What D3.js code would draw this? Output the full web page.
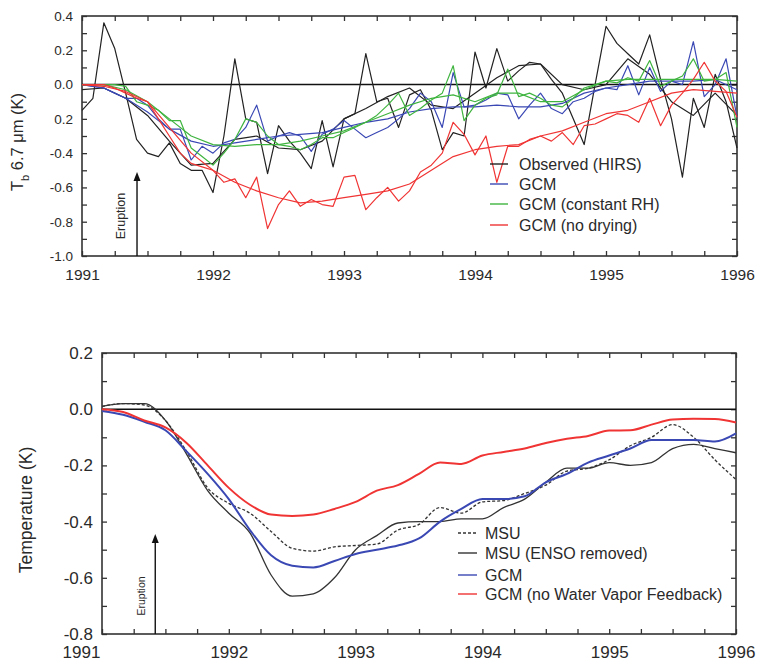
<!DOCTYPE html>
<html>
<head>
<meta charset="utf-8">
<script src="https://cdn.jsdelivr.net/npm/d3@7"></script>
<style>
body { margin: 0; background: #fff; }
svg text { font-family: "Liberation Sans", Arial, sans-serif; fill: #2a2a2a; }
.domain { display: none; }
</style>
</head>
<body>
<svg id="chart" width="757" height="663"></svg>
<script>
// TOP PANEL DATA (monthly, Jan 1991 .. Jan 1996) + smoothed (every 2 months)
const obsRaw = [-0.15,-0.08,0.36,0.21,-0.05,-0.32,-0.40,-0.42,-0.34,-0.46,-0.50,-0.50,-0.63,-0.30,0.15,-0.20,-0.22,-0.52,-0.24,-0.33,-0.40,-0.49,-0.21,-0.48,-0.20,-0.17,0.18,-0.10,-0.08,-0.25,-0.06,-0.03,-0.15,-0.38,-0.28,-0.30,0.19,-0.02,0.21,0.02,0.08,0.13,0.12,0.03,-0.05,-0.20,-0.35,0.0,0.34,0.24,0.18,0.12,0.29,0.03,-0.20,-0.54,-0.08,-0.25,0.06,-0.10,-0.37];
const obsSmooth = [-0.03,-0.02,-0.08,-0.18,-0.33,-0.47,-0.46,-0.32,-0.30,-0.37,-0.38,-0.33,-0.20,-0.14,-0.07,-0.02,-0.12,-0.14,-0.05,0.04,0.11,0.12,0.0,-0.03,0.0,0.15,0.06,-0.10,-0.18,-0.05,-0.18];
const gcmRaw = [0,-0.01,-0.02,-0.05,-0.08,-0.08,-0.12,-0.20,-0.26,-0.26,-0.44,-0.36,-0.40,-0.34,-0.32,-0.25,-0.12,-0.33,-0.30,-0.28,-0.30,-0.39,-0.29,-0.26,-0.21,-0.26,-0.31,-0.28,-0.25,-0.20,-0.14,-0.05,-0.10,-0.25,0.07,-0.13,-0.12,-0.09,-0.05,-0.06,-0.20,-0.12,-0.05,-0.14,-0.17,-0.10,-0.08,-0.04,-0.02,-0.03,0.11,-0.06,0.10,-0.04,0.02,0.0,0.25,-0.07,0.0,0.15,-0.19];
const gcmSmooth = [0,-0.02,-0.08,-0.16,-0.26,-0.33,-0.36,-0.34,-0.32,-0.30,-0.29,-0.28,-0.25,-0.22,-0.20,-0.16,-0.14,-0.13,-0.13,-0.12,-0.13,-0.13,-0.11,-0.05,-0.02,0.0,0.02,0.02,0.02,0.03,-0.03];
const rhRaw = [0,0,0,0,-0.01,-0.10,-0.12,-0.15,-0.21,-0.21,-0.37,-0.42,-0.47,-0.40,-0.32,-0.20,-0.22,-0.30,-0.35,-0.36,-0.38,-0.35,-0.31,-0.31,-0.28,-0.25,-0.22,-0.18,-0.12,-0.05,-0.18,-0.14,-0.09,-0.05,0.11,-0.21,-0.12,-0.08,-0.06,0.09,-0.07,-0.05,-0.08,-0.12,-0.13,-0.08,-0.02,0.0,0.02,0.01,0.04,0.02,0.14,-0.01,0.02,0.05,0.15,0.02,0.03,0.07,-0.25];
const rhSmooth = [0,0,-0.03,-0.10,-0.20,-0.30,-0.35,-0.36,-0.35,-0.35,-0.33,-0.30,-0.27,-0.22,-0.17,-0.12,-0.08,-0.06,-0.10,-0.05,-0.05,-0.10,-0.10,-0.03,0.02,0.03,0.03,0.03,0.03,0.03,0.02];
const dryRaw = [0,0,0,-0.02,-0.05,-0.08,-0.10,-0.20,-0.30,-0.40,-0.46,-0.48,-0.50,-0.57,-0.55,-0.66,-0.54,-0.84,-0.70,-0.62,-0.71,-0.67,-0.70,-0.71,-0.54,-0.53,-0.73,-0.66,-0.60,-0.68,-0.62,-0.51,-0.47,-0.40,-0.22,-0.29,-0.41,-0.30,-0.57,-0.36,-0.36,-0.32,-0.30,-0.33,-0.28,-0.35,-0.24,-0.23,-0.20,-0.17,-0.18,-0.22,-0.08,-0.24,-0.12,-0.05,0.03,0.13,0.02,-0.04,-0.19];
const drySmooth = [0,-0.01,-0.04,-0.10,-0.25,-0.40,-0.50,-0.57,-0.62,-0.66,-0.69,-0.68,-0.66,-0.64,-0.62,-0.58,-0.50,-0.42,-0.38,-0.36,-0.35,-0.30,-0.27,-0.22,-0.17,-0.15,-0.10,-0.05,-0.03,-0.04,-0.05];

// BOTTOM PANEL DATA (every 2 months)
const msu = [0.01,0.02,0.015,-0.04,-0.15,-0.28,-0.335,-0.37,-0.435,-0.495,-0.505,-0.49,-0.485,-0.48,-0.43,-0.41,-0.35,-0.37,-0.33,-0.325,-0.30,-0.27,-0.22,-0.21,-0.18,-0.13,-0.10,-0.055,-0.10,-0.18,-0.25];
const msuEnso = [0.01,0.02,0.02,-0.04,-0.16,-0.29,-0.37,-0.44,-0.59,-0.665,-0.657,-0.60,-0.50,-0.45,-0.405,-0.40,-0.40,-0.39,-0.39,-0.35,-0.32,-0.26,-0.21,-0.21,-0.19,-0.20,-0.19,-0.14,-0.125,-0.14,-0.155];
const gcmT = [-0.006,-0.02,-0.045,-0.075,-0.15,-0.23,-0.32,-0.43,-0.52,-0.557,-0.563,-0.54,-0.515,-0.50,-0.485,-0.46,-0.40,-0.355,-0.32,-0.32,-0.31,-0.26,-0.23,-0.19,-0.165,-0.14,-0.11,-0.11,-0.11,-0.115,-0.086];
const noWv = [0,-0.01,-0.04,-0.065,-0.12,-0.20,-0.28,-0.34,-0.375,-0.38,-0.375,-0.355,-0.33,-0.29,-0.27,-0.23,-0.19,-0.195,-0.165,-0.152,-0.14,-0.12,-0.105,-0.095,-0.076,-0.075,-0.055,-0.037,-0.034,-0.035,-0.047];

const yearLabels = ["1991","1992","1993","1994","1995","1996"];
const topYTicks = [0.4,0.2,0,-0.2,-0.4,-0.6,-0.8,-1.0];
const topYLabels = ["0.4","0.2","0.0","0.2","-0.4","-0.6","-0.8","-1.0"];
const botYTicks = [0.2,0,-0.2,-0.4,-0.6,-0.8];
const botYLabels = ["0.2","0.0","-0.2","-0.4","-0.6","-0.8"];
const eruption = 1991.42;

const BLACK = "#222", BLUE = "#3a48b4", GREEN = "#3fb43f", RED = "#f03434";

const svg = d3.select("#chart");
const monthly = d3.range(61).map(function(i){ return 1991 + i/12; });
const bimonthly = d3.range(31).map(function(i){ return 1991 + i/6; });
const quarters = d3.range(21).map(function(i){ return 1991 + i/4; });

function zip(xs, ys){ return xs.map(function(x, i){ return [x, ys[i]]; }); }

function panel(opt){
    const x = d3.scaleLinear().domain([1991, 1996]).range([opt.left, opt.right]);
    const y = d3.scaleLinear().domain(opt.ydom).range([opt.bottom, opt.top]);
    const g = svg.append("g");
    const minorY = d3.range(Math.round(opt.ydom[0]*10), Math.round(opt.ydom[1]*10) + 1).map(function(d){ return d/10; });

    // inward minor ticks on all four sides
    g.append("g").attr("transform", "translate(0," + opt.bottom + ")")
        .call(d3.axisBottom(x).tickValues(quarters).tickSize(-opt.tick).tickFormat(""));
    g.append("g").attr("transform", "translate(0," + opt.top + ")")
        .call(d3.axisTop(x).tickValues(quarters).tickSize(-opt.tick).tickFormat(""));
    g.append("g").attr("transform", "translate(" + opt.left + ",0)")
        .call(d3.axisLeft(y).tickValues(minorY).tickSize(-opt.tick).tickFormat(""));
    g.append("g").attr("transform", "translate(" + opt.right + ",0)")
        .call(d3.axisRight(y).tickValues(minorY).tickSize(-opt.tick).tickFormat(""));
    g.selectAll(".tick line").attr("stroke", "#333").attr("stroke-width", 1.3);

    // labels
    const xl = g.append("g").attr("transform", "translate(0," + opt.bottom + ")")
        .call(d3.axisBottom(x).tickValues([1991,1992,1993,1994,1995,1996]).tickSize(0).tickPadding(opt.xpad)
            .tickFormat(function(d, i){ return yearLabels[i]; }));
    xl.selectAll("text").style("font-size", opt.xfont + "px")
        .attr("dx", function(d, i){ return i === 0 ? opt.firstDx : 0; });
    const yl = g.append("g").attr("transform", "translate(" + opt.left + ",0)")
        .call(d3.axisLeft(y).tickValues(opt.yticks).tickSize(0).tickPadding(opt.ypad)
            .tickFormat(function(d, i){ return opt.ylabels[i]; }));
    yl.selectAll("text").style("font-size", opt.yfont + "px");

    g.append("rect").attr("x", opt.left).attr("y", opt.top)
        .attr("width", opt.right - opt.left).attr("height", opt.bottom - opt.top)
        .attr("fill", "none").attr("stroke", "#333").attr("stroke-width", 1.6);
    g.append("line").attr("x1", opt.left).attr("x2", opt.right)
        .attr("y1", y(0)).attr("y2", y(0)).attr("stroke", "#111").attr("stroke-width", 1.4);

    // eruption arrow
    g.append("line").attr("x1", x(eruption)).attr("x2", x(eruption))
        .attr("y1", opt.bottom).attr("y2", opt.arrowTop + 6)
        .attr("stroke", "#111").attr("stroke-width", 1.4);
    g.append("path")
        .attr("d", "M" + x(eruption) + "," + opt.arrowTop + "l-3.5,9h7z")
        .attr("fill", "#111");
    g.append("text").attr("transform", "translate(" + (x(eruption) - opt.eruptDx) + "," + opt.eruptY + ") rotate(-90)")
        .attr("text-anchor", "middle").style("font-size", opt.eruptFont + "px").text("Eruption");

    g.append("text").attr("transform", "translate(" + opt.titleX + "," + opt.titleY + ") rotate(-90)")
        .attr("text-anchor", "middle").style("font-size", opt.titleFont + "px").html(opt.title);

    return { x: x, y: y, g: g };
}

function drawLine(p, xs, ys, color, width, dash, curve){
    const line = d3.line().x(function(d){ return p.x(d[0]); }).y(function(d){ return p.y(d[1]); })
        .curve(curve || d3.curveLinear);
    p.g.append("path").datum(zip(xs, ys)).attr("d", line)
        .attr("fill", "none").attr("stroke", color).attr("stroke-width", width)
        .attr("stroke-linejoin", "round").attr("stroke-dasharray", dash || null);
}

function legend(p, items, lx, tx, ys, font){
    items.forEach(function(it, i){
        p.g.append("line").attr("x1", lx[0]).attr("x2", lx[1]).attr("y1", ys[i]).attr("y2", ys[i])
            .attr("stroke", it.color).attr("stroke-width", 1.4).attr("stroke-dasharray", it.dash || null);
        p.g.append("text").attr("x", tx).attr("y", ys[i]).attr("dy", "0.35em")
            .style("font-size", font + "px").text(it.label);
    });
}

// TOP PANEL
const topPanel = panel({
    left: 82, right: 737, top: 16, bottom: 256, ydom: [-1.0, 0.4], tick: 5,
    yticks: topYTicks, ylabels: topYLabels, yfont: 13.5, ypad: 9,
    xfont: 15.5, xpad: 13, firstDx: 0,
    arrowTop: 172, eruptY: 216, eruptDx: 12, eruptFont: 12.5,
    title: 'T<tspan baseline-shift="sub" font-size="11">b</tspan> 6.7 \u03bcm (K)', titleX: 23, titleY: 142, titleFont: 16.5
});
drawLine(topPanel, bimonthly, obsSmooth, BLACK, 1.2);
drawLine(topPanel, monthly, obsRaw, BLACK, 1.2);
drawLine(topPanel, bimonthly, gcmSmooth, BLUE, 1.2);
drawLine(topPanel, monthly, gcmRaw, BLUE, 1.2);
drawLine(topPanel, bimonthly, rhSmooth, GREEN, 1.2);
drawLine(topPanel, monthly, rhRaw, GREEN, 1.2);
drawLine(topPanel, bimonthly, drySmooth, RED, 1.2);
drawLine(topPanel, monthly, dryRaw, RED, 1.2);
legend(topPanel, [
    {label: "Observed (HIRS)", color: BLACK},
    {label: "GCM", color: BLUE},
    {label: "GCM (constant RH)", color: GREEN},
    {label: "GCM (no drying)", color: RED}
], [490, 508], 519, [164, 184, 204, 225], 16);

// BOTTOM PANEL
const botPanel = panel({
    left: 102, right: 736, top: 353, bottom: 634, ydom: [-0.8, 0.2], tick: 5,
    yticks: botYTicks, ylabels: botYLabels, yfont: 17, ypad: 9,
    xfont: 17, xpad: 12, firstDx: -21,
    arrowTop: 534, eruptY: 596, eruptDx: 10, eruptFont: 10.5,
    title: "Temperature (K)", titleX: 32, titleY: 510, titleFont: 17.5
});
drawLine(botPanel, bimonthly, msu, "#333", 1.3, "3,2", d3.curveMonotoneX);
drawLine(botPanel, bimonthly, msuEnso, "#333", 1.3, null, d3.curveMonotoneX);
drawLine(botPanel, bimonthly, gcmT, BLUE, 2, null, d3.curveMonotoneX);
drawLine(botPanel, bimonthly, noWv, RED, 2, null, d3.curveMonotoneX);
legend(botPanel, [
    {label: "MSU", color: "#333", dash: "3,2"},
    {label: "MSU (ENSO removed)", color: "#333"},
    {label: "GCM", color: BLUE},
    {label: "GCM (no Water Vapor Feedback)", color: RED}
], [458, 477], 485, [533, 553, 575, 594], 16);
</script>
</body>
</html>
